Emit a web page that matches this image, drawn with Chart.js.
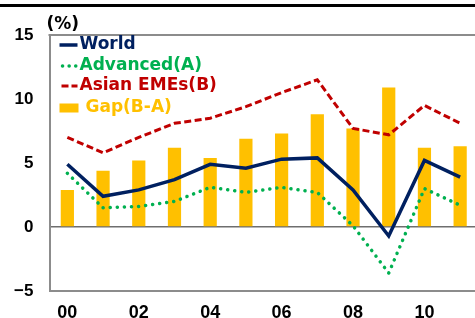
<!DOCTYPE html>
<html>
<head>
<meta charset="utf-8">
<script src="https://cdn.jsdelivr.net/npm/chart.js@4/dist/chart.umd.min.js"></script>
<style>
  html, body { margin: 0; padding: 0; background: #fff; overflow: hidden; }
  #wrap { position: relative; width: 480px; height: 318px; }
</style>
</head>
<body>
<div id="wrap"><canvas id="myChart"></canvas></div>
<script>
// years 2000 - 2011
const years = ['00', '01', '02', '03', '04', '05', '06', '07', '08', '09', '10', '11'];
const world = [4.9, 2.4, 2.9, 3.7, 4.9, 4.6, 5.3, 5.4, 2.9, -0.7, 5.2, 3.9];
const advanced = [4.2, 1.5, 1.6, 2.0, 3.1, 2.7, 3.1, 2.7, 0.1, -3.6, 3.0, 1.7];
const asianEMEs = [7.0, 5.8, 7.0, 8.1, 8.5, 9.4, 10.5, 11.5, 7.7, 7.2, 9.5, 8.1];
const gap = [2.9, 4.4, 5.2, 6.2, 5.4, 6.9, 7.3, 8.8, 7.7, 10.9, 6.2, 6.3];
const yTicks = [-5, 0, 5, 10, 15];
const legendNames = ['World', 'Advanced(A)', 'Asian EMEs(B)', 'Gap(B-A)'];

const NAVY = '#002060', GREEN = '#00B050', RED = '#C00000', GOLD = '#FFC000';
const FRAME = '#8c8c8c';

// rahmen oben + legende + (%)
const extras = {
    id: 'extras',
    afterDraw(chart) {
        const ctx = chart.ctx;
        const a = chart.chartArea;
        ctx.save();
        // black rule at very top
        ctx.strokeStyle = '#000';
        ctx.lineWidth = 3;
        ctx.beginPath();
        ctx.moveTo(0, 5.5);
        ctx.lineTo(chart.width, 5.5);
        ctx.stroke();
        // top frame
        ctx.strokeStyle = FRAME;
        ctx.lineWidth = 2;
        ctx.beginPath();
        ctx.moveTo(a.left - 1, a.top);
        ctx.lineTo(a.right + 2, a.top);
        ctx.stroke();

        ctx.font = 'bold 17px "DejaVu Sans"';
        ctx.textBaseline = 'middle';
        ctx.textAlign = 'left';
        ctx.fillStyle = '#000';
        ctx.fillText('(%)', a.left - 3, a.top - 10);

        const x0 = a.left + 10, x1 = a.left + 28;
        const rows = [a.top + 10, a.top + 31, a.top + 51, a.top + 73];
        // World
        ctx.setLineDash([]);
        ctx.lineCap = 'butt';
        ctx.strokeStyle = NAVY; ctx.lineWidth = 3.5;
        ctx.beginPath(); ctx.moveTo(x0, rows[0]); ctx.lineTo(x1, rows[0]); ctx.stroke();
        ctx.fillStyle = NAVY;
        ctx.fillText(legendNames[0], x1 + 2, rows[0]);
        // Advanced
        ctx.strokeStyle = GREEN; ctx.lineWidth = 3.5; ctx.lineCap = 'round';
        ctx.setLineDash([0.1, 6.5]);
        ctx.beginPath(); ctx.moveTo(x0 + 3, rows[1]); ctx.lineTo(x1, rows[1]); ctx.stroke();
        ctx.fillStyle = GREEN;
        ctx.fillText(legendNames[1], x1 + 2, rows[1]);
        // Asian
        ctx.strokeStyle = RED; ctx.lineWidth = 3; ctx.lineCap = 'butt';
        ctx.setLineDash([7, 3]);
        ctx.beginPath(); ctx.moveTo(x0 + 2, rows[2]); ctx.lineTo(x1, rows[2]); ctx.stroke();
        ctx.fillStyle = RED;
        ctx.fillText(legendNames[2], x1 + 2, rows[2]);
        // Gap
        ctx.setLineDash([]);
        ctx.fillStyle = GOLD;
        ctx.fillRect(x0, rows[3] - 4.5, 19, 9);
        ctx.fillText(legendNames[3], x1 + 8, rows[3]);
        ctx.restore();
    }
};

const ctx = document.getElementById('myChart');
const graphique = new Chart(ctx.getContext('2d'), {
    type: 'bar',
    data: {
        labels: years,
        datasets: [{
            type: 'line',
            label: legendNames[0],
            data: world,
            borderColor: NAVY,
            borderWidth: 3.5,
            pointRadius: 0,
            tension: 0,
            fill: false,
            order: 1
        }, {
            type: 'line',
            label: legendNames[1],
            data: advanced,
            borderColor: GREEN,
            borderWidth: 3.5,
            borderDash: [0.1, 7],
            borderCapStyle: 'round',
            pointRadius: 0,
            tension: 0,
            fill: false,
            order: 3
        }, {
            type: 'line',
            label: legendNames[2],
            data: asianEMEs,
            borderColor: RED,
            borderWidth: 3,
            borderDash: [7, 3.5],
            pointRadius: 0,
            tension: 0,
            fill: false,
            order: 2
        }, {
            label: legendNames[3],
            data: gap,
            backgroundColor: GOLD,
            borderWidth: 0,
            categoryPercentage: 1,
            barPercentage: 0.37,
            order: 4
        }]
    },
    options: {
        responsive: true,
        maintainAspectRatio: false,
        animation: false,
        layout: { padding: { top: 35, right: 2, left: 0, bottom: 0 } },
        plugins: {
            legend: { display: false },
            tooltip: { enabled: false }
        },
        scales: {
            x: {
                offset: true,
                grid: { display: true, drawOnChartArea: false, drawTicks: false },
                border: { display: true, color: FRAME, width: 2 },
                ticks: {
                    autoSkip: false,
                    maxRotation: 0,
                    padding: 11,
                    color: '#000',
                    font: { family: '"Liberation Sans", Arial', weight: 'bold', size: 18 },
                    callback: function (v, i) { return i % 2 === 0 ? years[i] : ''; }
                },
                afterFit: function (s) { s.height = 27; }
            },
            y: {
                min: -5,
                max: 15,
                afterBuildTicks: function (s) { s.ticks = yTicks.map(v => ({ value: v })); },
                grid: {
                    drawTicks: false,
                    color: c => (c.tick && c.tick.value === 0 ? '#6e6e6e' : 'rgba(0,0,0,0)'),
                    lineWidth: 1.5
                },
                border: { display: true, color: FRAME, width: 2 },
                ticks: {
                    padding: 16,
                    color: '#000',
                    font: { family: '"Liberation Sans", Arial', weight: 'bold', size: 17 },
                    callback: v => (v < 0 ? '\u2212' + Math.abs(v) : String(v))
                },
                afterFit: function (s) { s.width = 49.5; }
            }
        }
    },
    plugins: [extras]
});
</script>
</body>
</html>
